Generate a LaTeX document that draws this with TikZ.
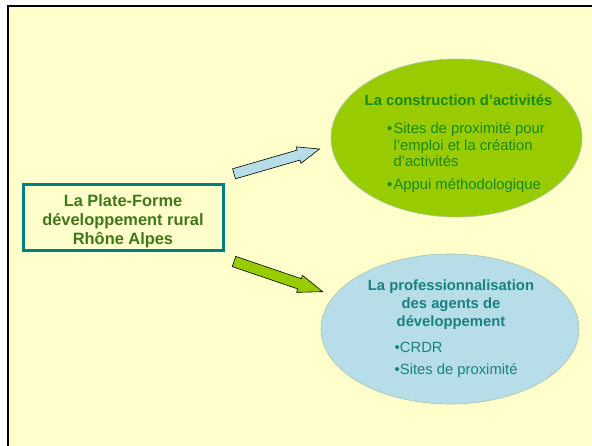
\documentclass[tikz,border=0pt]{standalone}
\usepackage{fontspec}
\setmainfont{Liberation Sans}
\usetikzlibrary{shapes.geometric,calc}
\definecolor{bg}{HTML}{FFFFCC}
\definecolor{lgreen}{HTML}{99CC00}
\definecolor{lblue}{HTML}{B7DEE8}
\definecolor{boxtext}{HTML}{41771A}
\definecolor{acttext}{HTML}{178A17}
\definecolor{protext}{HTML}{1A8080}
\definecolor{teal2}{HTML}{00807F}
\definecolor{edge}{HTML}{A9C4B0}
\tikzset{
  txt/.style={inner sep=0pt, anchor=base, font=\fontsize{14.8}{17}\selectfont},
  txtl/.style={inner sep=0pt, anchor=base west, font=\fontsize{14.8}{17}\selectfont},
  boxtxt/.style={inner sep=0pt, anchor=base, font=\fontsize{16.4}{19}\selectfont\bfseries, text=boxtext},
  blob/.style={ellipse, draw=edge, line width=0.6pt, inner sep=0pt},
  bigarrow/.style={draw=black, line width=0.6pt, line join=miter},
}
\begin{document}
\begin{tikzpicture}[x=1pt,y=-1pt]
\useasboundingbox (0,0) rectangle (592,445);
\clip (0,0) rectangle (592,445);
\fill[white] (0,0) rectangle (592,445);
\draw[line width=2.3pt, fill=bg] (7.8,6.2) rectangle (610,460);

% ellipses
\node[blob, fill=lgreen, minimum width=251pt, minimum height=158pt] (act) at (456.5,138) {};
\node[blob, fill=lblue, minimum width=258pt, minimum height=150pt] (pro) at (450,329) {};

% box
\node[draw=teal2, line width=3pt, minimum width=200.3pt, minimum height=66.3pt, inner sep=0pt] (box) at (123.35,217.65) {};
\node[boxtxt] (b1) at (123,206) {La Plate-Forme};
\node[boxtxt] (b2) at (123,225) {développement rural};
\node[boxtxt] (b3) at (123,244.3) {Rhône Alpes};

% green ellipse text
\node[txt, font=\fontsize{14.8}{17}\selectfont\bfseries, text=acttext] (t1) at (458.5,105) {La construction d’activités};
\node[txtl, text=acttext] (g1b) at (386.8,133) {•};
\node[txtl, text=acttext] (g1) at (393.3,133) {Sites de proximité pour};
\node[txtl, text=acttext] (g2) at (393.3,150) {l’emploi et la création};
\node[txtl, text=acttext] (g3) at (393.3,166.8) {d’activités};
\node[txtl, text=acttext] (g4b) at (386.8,189.3) {•};
\node[txtl, text=acttext] (g4) at (393.3,189.3) {Appui méthodologique};

% blue ellipse text
\node[txt, font=\fontsize{14.8}{17}\selectfont\bfseries, text=protext] (p1) at (451,290.7) {La professionnalisation};
\node[txt, font=\fontsize{14.8}{17}\selectfont\bfseries, text=protext] (p2) at (451,308.3) {des agents de};
\node[txt, font=\fontsize{14.8}{17}\selectfont\bfseries, text=protext] (p3) at (451,326) {développement};
\node[txtl, text=protext] (q1) at (394.5,352.7) {•CRDR};
\node[txtl, text=protext] (q2) at (394.5,374) {•Sites de proximité};

% arrows
\coordinate (a1t) at (234,173.8);
\coordinate (a1h) at (319.5,149);
\coordinate (a1b) at ($(a1h)!21.8pt!(a1t)$);
\draw[bigarrow, fill=lblue]
  ($(a1t)!5.2pt!90:(a1h)$) -- ($(a1b)!5.2pt!90:(a1h)$) -- ($(a1b)!8.6pt!90:(a1h)$) -- (a1h)
  -- ($(a1b)!8.6pt!-90:(a1h)$) -- ($(a1b)!5.2pt!-90:(a1h)$) -- ($(a1t)!5.2pt!-90:(a1h)$) -- cycle;

\coordinate (a2t) at (234,261.5);
\coordinate (a2h) at (322.7,291.7);
\coordinate (a2b) at ($(a2h)!24.5pt!(a2t)$);
\draw[bigarrow, fill=lgreen]
  ($(a2t)!5.4pt!90:(a2h)$) -- ($(a2b)!5.4pt!90:(a2h)$) -- ($(a2b)!9pt!90:(a2h)$) -- (a2h)
  -- ($(a2b)!9pt!-90:(a2h)$) -- ($(a2b)!5.4pt!-90:(a2h)$) -- ($(a2t)!5.4pt!-90:(a2h)$) -- cycle;
\end{tikzpicture}
\end{document}
